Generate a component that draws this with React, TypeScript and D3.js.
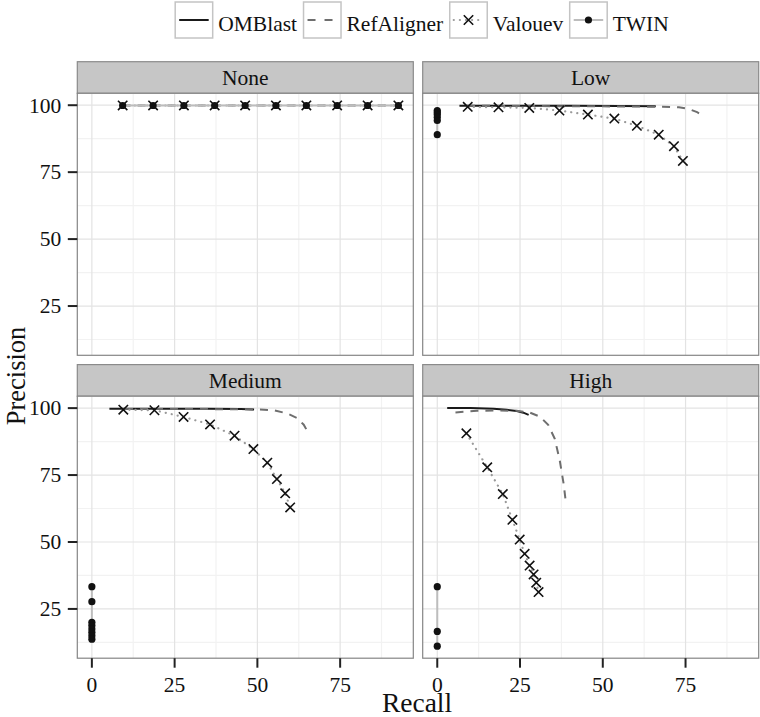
import React from "react";
import * as d3 from "d3";

// ---------- data ----------
const panelNames = ["None", "Low", "Medium", "High"];
const seriesNames = ["OMBlast", "RefAligner", "Valouev", "TWIN"];
const xTicks = [0, 25, 50, 75];
const yTicks = [25, 50, 75, 100];
const xMinor = [12.5, 37.5, 62.5, 87.5];
const yMinor = [12.5, 37.5, 62.5, 87.5];

// None
const refalignerNoneRecall = [9.3, 30, 50, 70, 92.6];
const refalignerNonePrecision = [99.9, 99.9, 99.9, 99.9, 99.9];
const valouevNoneRecall = [9.3, 18.5, 27.8, 37.1, 46.3, 55.6, 64.8, 74.1, 83.3, 92.6];
const valouevNonePrecision = [99.9, 99.9, 99.9, 99.9, 99.9, 99.9, 99.9, 99.9, 99.9, 99.9];
const twinNoneRecall = [9.3, 18.5, 27.8, 37.1, 46.3, 55.6, 64.8, 74.1, 83.3, 92.6];
const twinNonePrecision = [99.9, 99.9, 99.9, 99.9, 99.9, 99.9, 99.9, 99.9, 99.9, 99.9];

// Low
const omblastLowRecall = [6.7, 20, 40, 55, 66];
const omblastLowPrecision = [99.8, 99.8, 99.8, 99.7, 99.6];
const refalignerLowRecall = [9, 25, 45, 60, 68, 73, 76, 78.5, 80.5];
const refalignerLowPrecision = [99.8, 99.7, 99.6, 99.5, 99.4, 99.2, 98.6, 97.4, 96.0];
const valouevLowRecall = [9.2, 18.5, 27.8, 36.9, 45.5, 53.5, 60.3, 66.9, 71.5, 74.2];
const valouevLowPrecision = [99.4, 99.2, 99.0, 98.0, 96.5, 95.0, 92.3, 89.0, 84.7, 79.2];
const twinLowRecall = [0, 0, 0, 0, 0, 0];
const twinLowPrecision = [98.0, 97.3, 96.5, 95.5, 94.3, 89.0];

// Medium
const omblastMediumRecall = [5.3, 20, 35, 45, 49];
const omblastMediumPrecision = [99.8, 99.8, 99.8, 99.7, 99.5];
const refalignerMediumRecall = [10, 25, 40, 50, 55, 59, 62, 64, 65.5];
const refalignerMediumPrecision = [99.7, 99.7, 99.6, 99.5, 99.2, 98.0, 96.3, 93.8, 90.5];
const valouevMediumRecall = [9.5, 18.9, 27.7, 35.7, 43.1, 48.8, 53.0, 55.9, 58.4, 59.9];
const valouevMediumPrecision = [99.4, 99.2, 96.7, 93.9, 89.7, 84.7, 79.6, 73.5, 68.2, 62.9];
const twinMediumRecall = [0, 0, 0, 0, 0, 0, 0, 0];
const twinMediumPrecision = [33.3, 27.7, 20.0, 18.8, 17.5, 16.3, 15.0, 13.7];

// High
const omblastHighRecall = [3, 10, 17, 21, 24, 26, 27.6];
const omblastHighPrecision = [100, 100, 99.8, 99.4, 98.9, 98.3, 97.5];
const refalignerHighRecall = [5.5, 12, 18, 24, 28, 31, 33.5, 35.5, 37, 38.2, 38.7];
const refalignerHighPrecision = [98.4, 99.0, 99.1, 99.0, 98.3, 96.8, 93.8, 88.5, 80.5, 71.5, 66.3];
const valouevHighRecall = [8.8, 15.1, 19.8, 22.7, 24.9, 26.4, 27.9, 29.1, 29.9, 30.6];
const valouevHighPrecision = [90.6, 77.9, 67.9, 58.3, 50.9, 45.6, 41.2, 37.9, 34.8, 31.3];
const twinHighRecall = [0, 0, 0];
const twinHighPrecision = [33.3, 16.6, 11.1];

type Pt = { x: number; y: number };
const zip = (xs: number[], ys: number[]): Pt[] => xs.map((x, i) => ({ x, y: ys[i] }));

const data: Record<string, Record<string, Pt[]>> = {
  None: {
    OMBlast: [],
    RefAligner: zip(refalignerNoneRecall, refalignerNonePrecision),
    Valouev: zip(valouevNoneRecall, valouevNonePrecision),
    TWIN: zip(twinNoneRecall, twinNonePrecision),
  },
  Low: {
    OMBlast: zip(omblastLowRecall, omblastLowPrecision),
    RefAligner: zip(refalignerLowRecall, refalignerLowPrecision),
    Valouev: zip(valouevLowRecall, valouevLowPrecision),
    TWIN: zip(twinLowRecall, twinLowPrecision),
  },
  Medium: {
    OMBlast: zip(omblastMediumRecall, omblastMediumPrecision),
    RefAligner: zip(refalignerMediumRecall, refalignerMediumPrecision),
    Valouev: zip(valouevMediumRecall, valouevMediumPrecision),
    TWIN: zip(twinMediumRecall, twinMediumPrecision),
  },
  High: {
    OMBlast: zip(omblastHighRecall, omblastHighPrecision),
    RefAligner: zip(refalignerHighRecall, refalignerHighPrecision),
    Valouev: zip(valouevHighRecall, valouevHighPrecision),
    TWIN: zip(twinHighRecall, twinHighPrecision),
  },
};

// ---------- styles ----------
const FONT = "Liberation Serif, Times New Roman, Times, serif";
const lineStyle: Record<string, { stroke: string; dash?: string; width: number; cap?: string }> = {
  OMBlast: { stroke: "#1a1a1a", width: 2 },
  RefAligner: { stroke: "#6e6e6e", width: 2, dash: "8,7" },
  Valouev: { stroke: "#9a9a9a", width: 2.2, dash: "0.1,6", cap: "round" },
  TWIN: { stroke: "#bdbdbd", width: 2 },
};

const W = 760;
const H = 717;
const panelW = 336;
const panelH = 262;
const stripH = 31.6;
const colX = [77.3, 422.7];
const rowTop = [93.3, 396.2];

const Cross = ({ cx, cy }: { cx: number; cy: number }) => {
  const s = 4.7;
  return (
    <path
      d={`M${cx - s},${cy - s}L${cx + s},${cy + s}M${cx - s},${cy + s}L${cx + s},${cy - s}`}
      stroke="#111"
      strokeWidth={1.6}
      fill="none"
    />
  );
};

export default function App() {
  const x = d3.scaleLinear().domain([-4.4, 97.1]).range([0, panelW]);
  const y = d3.scaleLinear().domain([6.6, 104.45]).range([panelH, 0]);
  const line = d3
    .line<Pt>()
    .x((d) => x(d.x))
    .y((d) => y(d.y));

  // legend layout
  const legendFont = 21.5;
  let measure = (s: string) => s.length * 10;
  if (typeof document !== "undefined") {
    const ctx = document.createElement("canvas").getContext("2d");
    if (ctx) {
      ctx.font = `${legendFont}px "Liberation Serif", serif`;
      measure = (s: string) => ctx.measureText(s).width;
    }
  }
  const boxW = 37.5;
  const boxH = 36;
  const gapText = 5.5;
  const gapItem = 6.5;
  const widths = seriesNames.map(measure);
  const total =
    widths.reduce((a, b) => a + b, 0) + seriesNames.length * (boxW + gapText) + (seriesNames.length - 1) * gapItem;
  let lx = 422 - total / 2;
  const legendItems = seriesNames.map((name, i) => {
    const item = { name, x: lx, tx: lx + boxW + gapText };
    lx += boxW + gapText + widths[i] + gapItem;
    return item;
  });
  const legendY = 2;

  return (
    <svg
      width={W}
      height={H}
      style={{ position: "absolute", left: 0, top: 0, background: "#fff", fontFamily: FONT }}
    >
      <rect width={W} height={H} fill="#fff" />
      {/* legend */}
      {legendItems.map((it) => {
        const st = lineStyle[it.name];
        const cy = legendY + boxH / 2;
        return (
          <g key={it.name}>
            <rect x={it.x} y={legendY} width={boxW} height={boxH} fill="#fff" stroke="#c4c4c4" strokeWidth={1.5} />
            <line
              x1={it.x + 4}
              x2={it.x + boxW - 4}
              y1={cy}
              y2={cy}
              stroke={st.stroke}
              strokeWidth={st.width}
              strokeDasharray={it.name === "RefAligner" ? "8,9" : st.dash}
              strokeLinecap={(st.cap as any) || "butt"}
            />
            {it.name === "Valouev" && <Cross cx={it.x + boxW / 2} cy={cy} />}
            {it.name === "TWIN" && <circle cx={it.x + boxW / 2} cy={cy} r={3.6} fill="#111" />}
            <text x={it.tx} y={legendY + 28.5} fontSize={legendFont} fill="#111" style={{ fontFamily: FONT }}>
              {it.name}
            </text>
          </g>
        );
      })}

      {panelNames.map((p, i) => {
        const px = colX[i % 2];
        const py = rowTop[Math.floor(i / 2)];
        const isBottom = Math.floor(i / 2) === 1;
        const isLeft = i % 2 === 0;
        const pd = data[p];
        return (
          <g key={p}>
            {/* strip */}
            <rect x={px} y={py - stripH} width={panelW} height={stripH} fill="#c6c6c6" stroke="#8a8a8a" strokeWidth={1.2} />
            <text
              x={px + panelW / 2}
              y={py - stripH / 2 + 7.4}
              textAnchor="middle"
              fontSize={21.5}
              fill="#111"
              style={{ fontFamily: FONT }}
            >
              {p}
            </text>
            <g transform={`translate(${px},${py})`}>
              <rect width={panelW} height={panelH} fill="#fff" />
              {xMinor.map((v) => (
                <line key={"xm" + v} x1={x(v)} x2={x(v)} y1={0} y2={panelH} stroke="#f2f2f2" strokeWidth={1.2} />
              ))}
              {yMinor.map((v) => (
                <line key={"ym" + v} y1={y(v)} y2={y(v)} x1={0} x2={panelW} stroke="#f2f2f2" strokeWidth={1.2} />
              ))}
              {xTicks.map((v) => (
                <line key={"xg" + v} x1={x(v)} x2={x(v)} y1={0} y2={panelH} stroke="#e3e3e3" strokeWidth={1.2} />
              ))}
              {yTicks.map((v) => (
                <line key={"yg" + v} y1={y(v)} y2={y(v)} x1={0} x2={panelW} stroke="#e3e3e3" strokeWidth={1.2} />
              ))}
              {/* lines */}
              {seriesNames.map((s) => {
                const pts = pd[s];
                if (!pts || pts.length < 2) return null;
                const st = lineStyle[s];
                return (
                  <path
                    key={"l" + s}
                    d={line(pts) || ""}
                    fill="none"
                    stroke={st.stroke}
                    strokeWidth={st.width}
                    strokeDasharray={st.dash}
                    strokeLinecap={(st.cap as any) || "butt"}
                  />
                );
              })}
              {/* points */}
              {pd.Valouev.map((d, k) => (
                <Cross key={"v" + k} cx={x(d.x)} cy={y(d.y)} />
              ))}
              {pd.TWIN.map((d, k) => (
                <circle key={"t" + k} cx={x(d.x)} cy={y(d.y)} r={3.6} fill="#111" />
              ))}
              <rect width={panelW} height={panelH} fill="none" stroke="#858585" strokeWidth={1.2} />
            </g>
            {/* y axis */}
            {isLeft &&
              yTicks.map((v) => (
                <g key={"yt" + v}>
                  <line x1={px - 9.5} x2={px} y1={py + y(v)} y2={py + y(v)} stroke="#222" strokeWidth={2} />
                  <text
                    x={px - 16}
                    y={py + y(v) + 7.3}
                    textAnchor="end"
                    fontSize={21.5}
                    fill="#111"
                    style={{ fontFamily: FONT }}
                  >
                    {v}
                  </text>
                </g>
              ))}
            {/* x axis */}
            {isBottom &&
              xTicks.map((v) => (
                <g key={"xt" + v}>
                  <line
                    x1={px + x(v)}
                    x2={px + x(v)}
                    y1={py + panelH}
                    y2={py + panelH + 9.5}
                    stroke="#222"
                    strokeWidth={2}
                  />
                  <text
                    x={px + x(v)}
                    y={py + panelH + 33.5}
                    textAnchor="middle"
                    fontSize={21.5}
                    fill="#111"
                    style={{ fontFamily: FONT }}
                  >
                    {v}
                  </text>
                </g>
              ))}
          </g>
        );
      })}

      <text x={417} y={712} textAnchor="middle" fontSize={27.5} fill="#111" style={{ fontFamily: FONT }}>
        Recall
      </text>
      <text
        transform={`translate(24.5,376) rotate(-90)`}
        textAnchor="middle"
        fontSize={26.5}
        fill="#111"
        style={{ fontFamily: FONT }}
      >
        Precision
      </text>
    </svg>
  );
}
